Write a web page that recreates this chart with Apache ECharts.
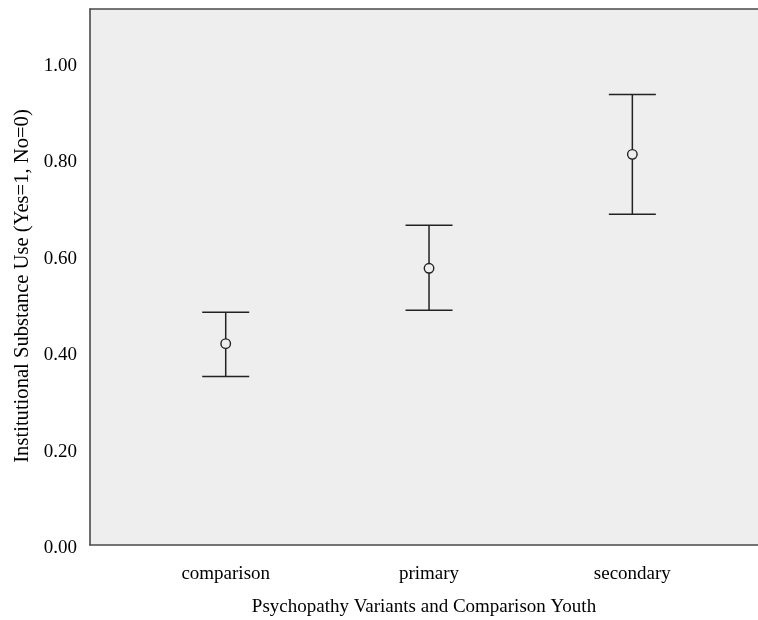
<!DOCTYPE html>
<html>
<head>
<meta charset="utf-8">
<script src="https://cdn.jsdelivr.net/npm/echarts@6/dist/echarts.min.js"></script>
<style>html,body{margin:0;padding:0;background:#fff}#c{width:758px;height:620px}</style>
</head>
<body>
<div id="c"></div>
<script>
const categories = ['comparison', 'primary', 'secondary'];
const means = [0.417, 0.573, 0.809];
const lower = [0.349, 0.486, 0.685];
const upper = [0.482, 0.662, 0.933];
const xTitle = 'Psychopathy Variants and Comparison Youth';
const yTitle = 'Institutional Substance Use (Yes=1, No=0)';

const font = 'Liberation Serif';
const axisLineStyle = { color: '#4a4a4a', width: 1.6 };
const barColor = '#222222';

const chart = echarts.init(document.getElementById('c'), null, { renderer: 'canvas' });
chart.setOption({
  animation: false,
  backgroundColor: '#ffffff',
  grid: {
    left: 90, right: 0, top: 9, bottom: 75, show: true, backgroundColor: '#eeeeee', borderWidth: 0,
    containLabel: false, outerBoundsMode: 'none'
  },
  xAxis: [{
    type: 'value', min: 0.3325, max: 3.618, position: 'bottom',
    axisLine: { show: true, onZero: false, lineStyle: axisLineStyle },
    axisTick: { show: false }, splitLine: { show: false },
    axisLabel: {
      customValues: [1, 2, 3],
      formatter: v => categories[Math.round(v) - 1] || '',
      margin: 20, fontFamily: font, fontSize: 19, color: '#000'
    },
    name: xTitle, nameLocation: 'middle', nameGap: 53,
    nameTextStyle: { fontFamily: font, fontSize: 19, color: '#000' }
  }, {
    type: 'value', min: 0.3325, max: 3.618, position: 'top',
    axisLine: { show: true, onZero: false, lineStyle: axisLineStyle },
    axisTick: { show: false }, splitLine: { show: false }, axisLabel: { show: false }
  }],
  yAxis: {
    type: 'value', min: 0, max: 1.11, interval: 0.2,
    axisLine: { show: true, onZero: false, lineStyle: axisLineStyle },
    axisTick: { show: false }, splitLine: { show: false },
    axisLabel: {
      formatter: v => (v > 1.05 ? '' : '{v|' + v.toFixed(2) + '}'),
      margin: 13, fontFamily: font, fontSize: 19, color: '#000',
      rich: { v: { fontFamily: font, fontSize: 19, color: '#000', padding: [7, 0, 0, 0] } }
    },
    name: yTitle, nameLocation: 'middle', nameGap: 56,
    nameTextStyle: { fontFamily: font, fontSize: 20.6, color: '#000', padding: [0, 18, 0, 0] }
  },
  series: [{
    type: 'custom',
    xAxisIndex: 0,
    data: categories.map((c, i) => [i + 1, lower[i], upper[i]]),
    encode: { x: 0, y: [1, 2] },
    renderItem: function (params, api) {
      const x = api.value(0);
      const lo = api.coord([x, api.value(1)]);
      const hi = api.coord([x, api.value(2)]);
      const hw = 23.5;
      const st = { stroke: barColor, lineWidth: 1.5 };
      return {
        type: 'group',
        children: [
          { type: 'line', shape: { x1: lo[0], y1: lo[1], x2: hi[0], y2: hi[1] }, style: st },
          { type: 'line', shape: { x1: lo[0] - hw, y1: lo[1], x2: lo[0] + hw, y2: lo[1] }, style: st },
          { type: 'line', shape: { x1: hi[0] - hw, y1: hi[1], x2: hi[0] + hw, y2: hi[1] }, style: st }
        ]
      };
    },
    z: 2
  }, {
    type: 'scatter',
    xAxisIndex: 0,
    data: categories.map((c, i) => [i + 1, means[i]]),
    symbol: 'circle', symbolSize: 9.5,
    itemStyle: { color: '#eeeeee', borderColor: barColor, borderWidth: 1.4, opacity: 1 },
    z: 3
  }]
});
</script>
</body>
</html>
